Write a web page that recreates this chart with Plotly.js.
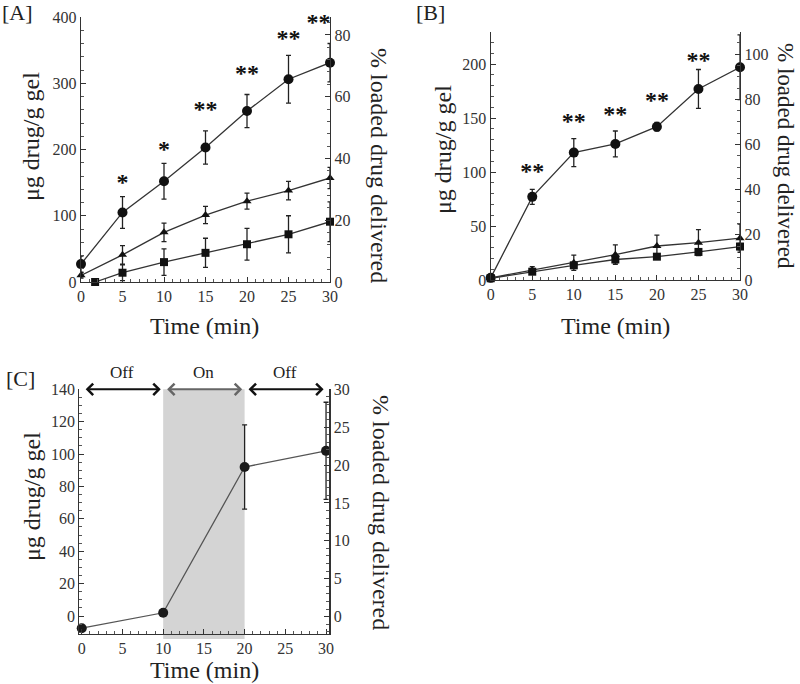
<!DOCTYPE html>
<html>
<head>
<meta charset="utf-8">
<script src="https://cdn.plot.ly/plotly-3.0.1.min.js"></script>
<style>
  html, body { margin: 0; padding: 0; background: #fff; }
  #chart { width: 800px; height: 684px; }
</style>
</head>
<body>
<div id="chart"></div>
<script>
// time points (min)
const time = [0, 5, 10, 15, 20, 25, 30];

// [A]
const aCircle = [27, 105, 152, 203, 258, 306, 331];
const aCircleErr = [12, 24, 27, 25, 25, 36, 29];
const aTriangle = [10, 41, 75, 101, 122, 138, 157];
const aTriangleErr = [4, 14, 14, 13, 12, 14, 16];
const aSquareTime = [1.7, 5, 10, 15, 20, 25, 30];
const aSquare = [0, 14, 30, 44, 57, 72, 91];
const aSquareErr = [0, 12, 20, 22, 24, 28, 30];
const aStarTime = [5, 10, 15, 20, 25, 28.6];
const aStarY = [148, 198, 258, 313, 365, 389];
const aStars = ["*", "*", "**", "**", "**", "**"];

// [B]
const bCircle = [2, 77, 118, 126, 142, 177, 197];
const bCircleErr = [2, 7, 13, 12, 4, 18, 30];
const bTriangle = [2, 9.3, 16, 23.5, 31.5, 34.6, 38.7];
const bTriangleErr = [1, 3, 7, 9, 10, 12, 13];
const bSquare = [1.6, 7.7, 13.6, 19, 21.6, 26, 31];
const bSquareErr = [1, 2, 2, 3, 2, 3, 3];
const bStarTime = [5, 10, 15, 20, 25, 28.7];
const bStarY = [99, 145, 152, 165, 202, 237];
const bStars = ["**", "**", "**", "**", "**", "**"];

// [C]
const cTime = [0, 10, 20, 30];
const cValue = [-7.5, 2, 92, 102];
const cErr = [0, 0, 26, 30];
const cPhaseEdges = [0, 10, 20, 30];
const cPhaseLabels = ["Off", "On", "Off"];

const SERIF = "Liberation Serif";
const INK = "#222";

const px = (x) => x / 800;
const py = (y) => 1 - y / 684;

function series(x, y, err, xa, ya, symbol, size, color, lineColor) {
  return {
    x, y, xaxis: xa, yaxis: ya,
    type: "scatter",
    mode: "lines+markers",
    cliponaxis: false,
    line: { color: lineColor || "#333", width: 1.3 },
    marker: { symbol, size, color: color || "#111" },
    error_y: { type: "data", array: err, visible: true, color: "#222", thickness: 1.3, width: 2.5 },
    showlegend: false,
  };
}

function stars(x, y, text, xa, ya) {
  return {
    x, y, text, xaxis: xa, yaxis: ya,
    type: "scatter",
    mode: "text",
    cliponaxis: false,
    textposition: "middle center",
    textfont: { family: SERIF, size: 24, color: "#111", weight: "bold" },
    showlegend: false,
    hoverinfo: "skip",
  };
}

const empty = (xa, ya) => ({ x: [], y: [], xaxis: xa, yaxis: ya, type: "scatter", showlegend: false });

const traces = [
  series(time, aCircle, aCircleErr, "x", "y", "circle", 10),
  series(time, aTriangle, aTriangleErr, "x", "y", "triangle-up", 8),
  series(aSquareTime, aSquare, aSquareErr, "x", "y", "square", 8),
  stars(aStarTime, aStarY, aStars, "x", "y"),
  empty("x", "y2"),

  series(time, bCircle, bCircleErr, "x2", "y3", "circle", 10),
  series(time, bTriangle, bTriangleErr, "x2", "y3", "triangle-up", 8),
  series(time, bSquare, bSquareErr, "x2", "y3", "square", 8),
  stars(bStarTime, bStarY, bStars, "x2", "y3"),
  empty("x2", "y4"),

  series(cTime, cValue, cErr, "x3", "y5", "circle", 10, "#1a1a1a", "#555"),
  empty("x3", "y6"),
];

const tickFont = { family: SERIF, size: 16, color: "#333" };

function xAxis(domain, anchor, range) {
  return {
    domain, anchor, range,
    tickvals: time, ticks: "inside", ticklen: 5, tickcolor: "#333",
    minor: { dtick: 1, ticks: "inside", ticklen: 3, tickcolor: "#555" },
    showline: true, linecolor: "#333", linewidth: 1.2,
    showgrid: false, zeroline: false, tickfont: tickFont,
    fixedrange: true,
  };
}

function yAxis(domain, anchor, range, dtick, minorDtick, side, overlaying) {
  const ax = {
    domain, anchor, range, side: side || "left",
    dtick, tick0: 0, ticks: "inside", ticklen: 5, tickcolor: "#333",
    minor: { dtick: minorDtick, ticks: "inside", ticklen: 3, tickcolor: "#555" },
    showline: true, linecolor: "#333", linewidth: 1.2,
    showgrid: false, zeroline: false, tickfont: tickFont,
    fixedrange: true,
  };
  if (overlaying) ax.overlaying = overlaying;
  return ax;
}

const domA = { x: [px(81), px(330)], y: [py(282), py(17)] };
const domB = { x: [px(490.7), px(740)], y: [py(280), py(31.7)] };
const domC = { x: [px(79.3), px(329.3)], y: [py(634), py(389.3)] };

const label = (text, x, y, size, angle) => ({
  text, x: px(x), y: py(y), xref: "paper", yref: "paper",
  showarrow: false, textangle: angle || 0,
  xanchor: "center", yanchor: "middle",
  font: { family: SERIF, size, color: INK },
});

const annotations = [
  label("[A]", 17, 12, 22),
  label("[B]", 430, 13, 22),
  label("[C]", 20, 378, 22),
  label("μg drug/g gel", 31, 137, 24, -90),
  label("% loaded drug delivered", 379, 165, 24, 90),
  label("Time (min)", 205, 326, 24),
  label("μg drug/g gel", 443, 150, 24, -90),
  label("% loaded drug delivered", 786, 156, 23, 90),
  label("Time (min)", 615, 326, 24),
  label("μg drug/g gel", 32, 497, 24, -90),
  label("% loaded drug delivered", 381, 512, 24, 90),
  label("Time (min)", 205, 670, 24),
];

cPhaseLabels.forEach((name, i) => {
  const x0 = cPhaseEdges[i];
  const x1 = cPhaseEdges[i + 1];
  const col = name === "On" ? "#666" : "#111";
  annotations.push({
    x: x1 - 0.3, y: 140, ax: x0 + 0.3, ay: 140,
    xref: "x3", yref: "y5", axref: "x3", ayref: "y5",
    text: "", showarrow: true, arrowhead: 4, arrowside: "end+start",
    arrowsize: 1.1, arrowwidth: 2, arrowcolor: col,
  });
  annotations.push({
    text: name, x: (x0 + x1) / 2, y: py(372), xref: "x3", yref: "paper",
    showarrow: false, xanchor: "center", yanchor: "middle",
    font: { family: SERIF, size: 17, color: INK },
  });
});

const layout = {
  width: 800, height: 684,
  margin: { l: 0, r: 0, t: 0, b: 0 },
  paper_bgcolor: "#fff", plot_bgcolor: "rgba(0,0,0,0)",
  font: { family: SERIF, color: INK },
  showlegend: false,

  xaxis: xAxis(domA.x, "y", [0, 30]),
  yaxis: yAxis(domA.y, "x", [0, 400], 100, 20),
  yaxis2: yAxis(domA.y, "x", [0, 85.8], 20, 4, "right", "y"),

  xaxis2: xAxis(domB.x, "y3", [0, 30]),
  yaxis3: yAxis(domB.y, "x2", [0, 230], 50, 10),
  yaxis4: yAxis(domB.y, "x2", [0, 110], 20, 5, "right", "y3"),

  xaxis3: xAxis(domC.x, "y5", [-0.3, 30.4]),
  yaxis5: yAxis(domC.y, "x3", [-11.1, 140], 20, 5),
  yaxis6: yAxis(domC.y, "x3", [-2.3, 30], 5, 1, "right", "y5"),

  shapes: [
    {
      type: "rect", xref: "x3", yref: "y5 domain",
      x0: cPhaseEdges[1], x1: cPhaseEdges[2], y0: -0.02, y1: 1,
      fillcolor: "#d4d4d4", line: { width: 0 }, layer: "below",
    },
  ],
  annotations,
};

Plotly.newPlot("chart", traces, layout, { staticPlot: true, displayModeBar: false });
</script>
</body>
</html>
